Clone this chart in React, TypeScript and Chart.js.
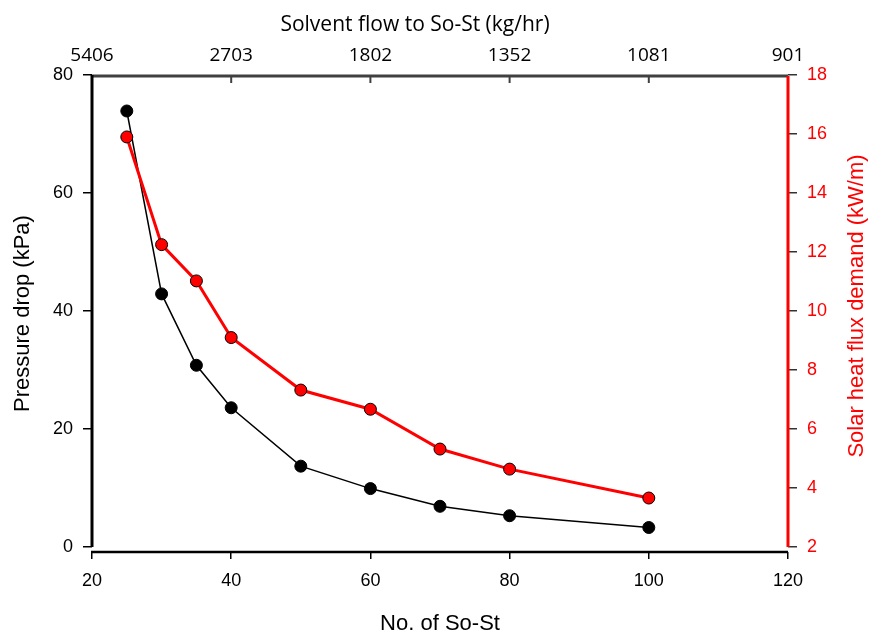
import React, { useEffect, useRef } from "react";
import { Chart, registerables } from "chart.js";

Chart.register(...registerables);

const stages = [25, 30, 35, 40, 50, 60, 70, 80, 100];
const pressureDrop = [73.9, 42.9, 30.8, 23.6, 13.7, 9.9, 6.9, 5.3, 3.3];
const heatFlux = [15.9, 12.25, 11.02, 9.1, 7.32, 6.67, 5.32, 4.64, 3.66];
const bottomTicks = [20, 40, 60, 80, 100, 120];
const topTickLabels = ["5406", "2703", "1802", "1352", "1081", "901"];
const leftTicks = [0, 20, 40, 60, 80];
const rightTicks = [2, 4, 6, 8, 10, 12, 14, 16, 18];

const ARIAL = "'Liberation Sans', Arial, sans-serif";
const CAL = "'Open Sans', sans-serif";

const axisPlugin = {
  id: "axisLines",
  afterDraw(chart: any) {
    const ctx = chart.ctx;
    const { left, right, top, bottom } = chart.chartArea;
    const y0 = chart.scales.y.getPixelForValue(0);
    const y2b = chart.scales.y2.getPixelForValue(2);
    ctx.save();
    // top axis
    ctx.strokeStyle = "#404040";
    ctx.lineWidth = 3;
    ctx.beginPath();
    ctx.moveTo(left, top + 1);
    ctx.lineTo(right, top + 1);
    ctx.stroke();
    ctx.lineWidth = 2;
    bottomTicks.forEach((v) => {
      const x = chart.scales.x2.getPixelForValue(v);
      ctx.beginPath();
      ctx.moveTo(x, top + 1);
      ctx.lineTo(x, top + 8);
      ctx.stroke();
    });
    // left axis
    ctx.strokeStyle = "#000";
    ctx.lineWidth = 3;
    ctx.beginPath();
    ctx.moveTo(left, top);
    ctx.lineTo(left, y0);
    ctx.stroke();
    // bottom axis
    ctx.lineWidth = 2.5;
    ctx.beginPath();
    ctx.moveTo(left - 1, bottom);
    ctx.lineTo(right, bottom);
    ctx.stroke();
    // right axis
    ctx.strokeStyle = "#ff0000";
    ctx.lineWidth = 3;
    ctx.beginPath();
    ctx.moveTo(right, top + 1);
    ctx.lineTo(right, y2b);
    ctx.stroke();
    // top title
    ctx.fillStyle = "#000";
    ctx.font = "21px " + CAL;
    ctx.textAlign = "center";
    ctx.textBaseline = "middle";
    ctx.fillText("Solvent flow to So-St (kg/hr)", 415, 25);
    // right title
    ctx.fillStyle = "#ff0000";
    ctx.font = "22px " + ARIAL;
    ctx.translate(857, 306);
    ctx.rotate(-Math.PI / 2);
    ctx.fillText("Solar heat flux demand (kW/m)", 0, 0);
    ctx.restore();
  },
};

export default function App() {
  const ref = useRef<HTMLCanvasElement | null>(null);
  useEffect(() => {
    if (!ref.current) return;
    const chart = new Chart(ref.current, {
      type: "line",
      data: {
        datasets: [
          {
            label: "Solar heat flux demand",
            data: stages.map((s, i) => ({ x: s, y: heatFlux[i] })),
            xAxisID: "x",
            yAxisID: "y2",
            borderColor: "#ff0000",
            borderWidth: 3,
            backgroundColor: "#ff0000",
            pointBackgroundColor: "#ff0000",
            pointBorderColor: "#000",
            pointBorderWidth: 1,
            pointRadius: 6,
            tension: 0,
          },
          {
            label: "Pressure drop",
            data: stages.map((s, i) => ({ x: s, y: pressureDrop[i] })),
            xAxisID: "x",
            yAxisID: "y",
            borderColor: "#000",
            borderWidth: 1.5,
            backgroundColor: "#000",
            pointBackgroundColor: "#000",
            pointBorderColor: "#000",
            pointBorderWidth: 1,
            pointRadius: 6,
            tension: 0,
          },
        ],
      },
      options: {
        animation: false,
        responsive: true,
        maintainAspectRatio: false,
        layout: { padding: 0 },
        plugins: { legend: { display: false }, tooltip: { enabled: false } },
        scales: {
          x: {
            type: "linear",
            position: "bottom",
            min: 20,
            max: 120,
            afterBuildTicks: (s: any) => {
              s.ticks = bottomTicks.map((v) => ({ value: v }));
            },
            afterFit: (s: any) => {
              s.height = 83;
            },
            border: { display: false },
            grid: { drawOnChartArea: false, drawTicks: true, tickLength: 7, color: "#000", lineWidth: 1.5 },
            ticks: { color: "#000", font: { family: ARIAL, size: 18 }, padding: 11, maxRotation: 0 },
            title: {
              display: true,
              text: "No. of So-St",
              color: "#000",
              font: { family: ARIAL, size: 22, lineHeight: 1 },
              padding: { top: 0, bottom: 0 },
            },
          },
          x2: {
            type: "linear",
            position: "top",
            min: 20,
            max: 120,
            afterBuildTicks: (s: any) => {
              s.ticks = bottomTicks.map((v) => ({ value: v }));
            },
            afterFit: (s: any) => {
              s.height = 75;
            },
            border: { display: false },
            grid: { drawOnChartArea: false, drawTicks: false },
            ticks: {
              color: "#000",
              font: { family: CAL, size: 19 },
              padding: 8,
              maxRotation: 0,
              callback: (v: any) => {
                const i = bottomTicks.indexOf(Number(v));
                return i >= 0 ? topTickLabels[i] : "";
              },
            },
          },
          y: {
            type: "linear",
            position: "left",
            min: (-5 / 472) * 80,
            max: 80,
            afterBuildTicks: (s: any) => {
              s.ticks = leftTicks.map((v) => ({ value: v }));
            },
            afterFit: (s: any) => {
              s.width = 92;
            },
            border: { display: false },
            grid: { drawOnChartArea: false, drawTicks: true, tickLength: 9, color: "#000", lineWidth: 1.5 },
            ticks: { color: "#000", font: { family: ARIAL, size: 18 }, padding: 10 },
            title: {
              display: true,
              text: "Pressure drop (kPa)",
              color: "#000",
              font: { family: ARIAL, size: 22, lineHeight: 1 },
              padding: { top: 12, bottom: 0 },
            },
          },
          y2: {
            type: "linear",
            position: "right",
            min: 2 - (5 / 472) * 16,
            max: 18,
            afterBuildTicks: (s: any) => {
              s.ticks = rightTicks.map((v) => ({ value: v }));
            },
            afterFit: (s: any) => {
              s.width = 83;
            },
            border: { display: false },
            grid: { drawOnChartArea: false, drawTicks: true, tickLength: 9, color: "#333", lineWidth: 1.5 },
            ticks: { color: "#ff0000", font: { family: ARIAL, size: 18 }, padding: 10 },
          },
        },
      },
      plugins: [axisPlugin],
    });
    return () => chart.destroy();
  }, []);
  return (
    <div style={{ position: "fixed", left: 0, top: 0, width: 871, height: 635 }}>
      <canvas ref={ref} />
    </div>
  );
}
